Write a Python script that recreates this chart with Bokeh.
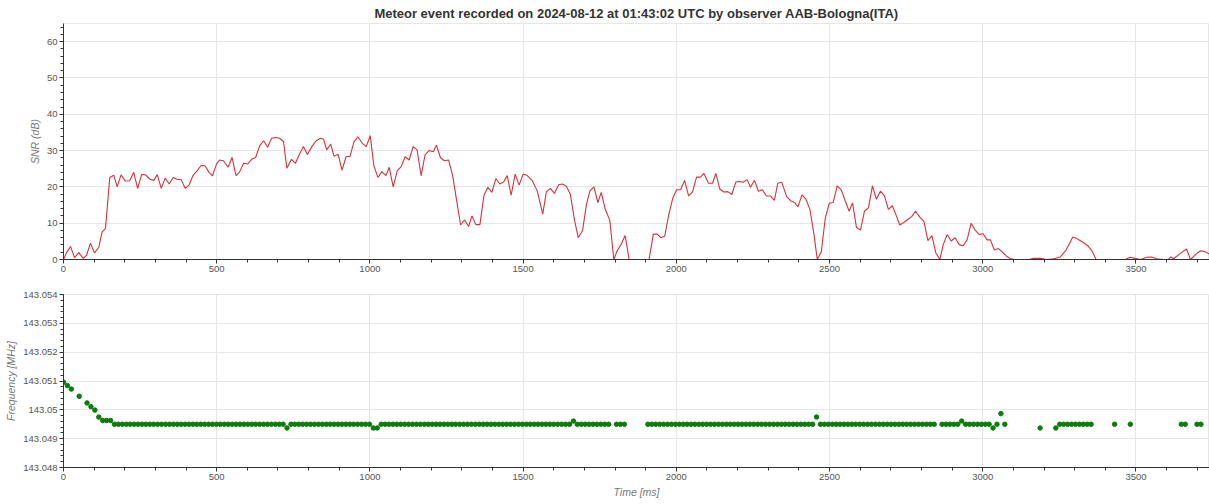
from bokeh.plotting import figure
from bokeh.layouts import column
from bokeh.models import ColumnDataSource, Range1d, SingleIntervalTicker, CustomJSTickFormatter
from bokeh.embed import file_html
from bokeh.resources import INLINE

TITLE = "Meteor event recorded on 2024-08-12 at 01:43:02 UTC by observer AAB-Bologna(ITA)"
X_LABEL = "Time [ms]"
SNR_LABEL = "SNR (dB)"
FREQ_LABEL = "Frequency [MHz]"

# ---- SNR trace ----
snr_time_ms = [
    0, 10, 23, 36, 50, 64, 75, 88, 101, 115, 126, 137, 151, 164, 175, 188, 202, 216, 229, 242,
    255, 268, 282, 295, 306, 319, 332, 345, 358, 371, 384, 397, 410, 423, 436, 449, 462, 475, 486, 499,
    509, 522, 537, 550, 563, 574, 588, 601, 614, 627, 640, 653, 666, 679, 692, 705, 718, 729, 744, 757,
    770, 783, 796, 812, 825, 838, 849, 859, 872, 883, 896, 909, 922, 935, 948, 961, 975, 988, 1001, 1013,
    1026, 1039, 1052, 1063, 1076, 1089, 1102, 1115, 1128, 1141, 1154, 1167, 1180, 1193, 1207, 1217, 1230, 1243, 1257, 1270,
    1283, 1296, 1309, 1322, 1333, 1346, 1359, 1372, 1385, 1398, 1411, 1424, 1437, 1448, 1461, 1474, 1487, 1500, 1513, 1529,
    1546, 1564, 1576, 1589, 1602, 1616, 1628, 1641, 1654, 1668, 1680, 1694, 1707, 1718, 1731, 1744, 1755, 1768, 1783, 1796,
    1807, 1820, 1833, 1846, 1860, 1873, 1886, 1898, 1911, 1925, 1938, 1949, 1962, 1975, 1988, 2001, 2014, 2027, 2040, 2053,
    2066, 2079, 2090, 2105, 2118, 2129, 2142, 2155, 2168, 2181, 2194, 2207, 2218, 2231, 2242, 2255, 2268, 2281, 2294, 2307,
    2320, 2331, 2344, 2360, 2373, 2386, 2397, 2410, 2423, 2436, 2449, 2460, 2473, 2486, 2499, 2512, 2525, 2538, 2551, 2564,
    2575, 2588, 2601, 2614, 2627, 2640, 2653, 2666, 2679, 2692, 2705, 2719, 2729, 2742, 2755, 2768, 2781, 2795, 2808, 2821,
    2834, 2847, 2860, 2871, 2884, 2897, 2910, 2923, 2936, 2949, 2962, 2975, 2988, 3001, 3014, 3025, 3038, 3051, 3064, 3077,
    3090, 3103, 3130, 3150, 3166, 3188, 3209, 3231, 3253, 3272, 3294, 3307, 3320, 3333, 3346, 3357, 3370, 3400, 3440, 3465,
    3481, 3497, 3515, 3535, 3551, 3568, 3590, 3606, 3614, 3623, 3645, 3665, 3678, 3699, 3712, 3726, 3739,
]
snr_db = [
    0, 1.9, 3.6, 0.5, 1.9, 0.3, 1.1, 4.5, 1.8, 3.3, 7.6, 8.5, 22.6, 23.2, 20.0, 23.3, 21.6, 21.7, 24.0, 19.6,
    23.4, 23.3, 22.1, 21.8, 23.4, 19.6, 22.4, 20.8, 22.6, 22.1, 22.0, 19.6, 20.5, 23.2, 24.4, 25.9, 25.8, 24.0, 23.0, 26.2,
    27.4, 27.2, 25.4, 28.1, 23.1, 24.0, 26.5, 26.3, 27.6, 28.1, 31.3, 32.7, 30.9, 33.4, 33.6, 33.4, 32.5, 25.1, 27.6, 26.5,
    29.0, 31.1, 28.9, 31.3, 32.7, 33.4, 33.1, 30.2, 31.8, 28.4, 29.0, 24.6, 28.3, 28.4, 32.4, 33.8, 32.0, 31.1, 34.1, 25.8,
    22.6, 24.2, 23.1, 25.4, 20.0, 24.4, 25.6, 28.3, 27.4, 31.1, 30.2, 23.1, 28.8, 30.0, 29.7, 31.5, 28.1, 27.2, 27.4, 23.1,
    16.2, 9.5, 10.9, 9.1, 12.0, 9.6, 9.6, 17.6, 19.9, 18.5, 22.3, 20.8, 21.4, 23.1, 17.7, 23.5, 20.5, 23.5, 23.2, 21.8,
    18.9, 12.5, 18.7, 19.6, 18.2, 20.6, 20.8, 20.2, 18.0, 10.7, 6.0, 8.0, 15.3, 18.9, 20.0, 15.7, 18.5, 13.9, 10.7, 0,
    2.4, 4.2, 6.6, 0, 0, 0, 0, 0, 0, 7.0, 7.0, 6.0, 6.4, 12.2, 16.8, 19.2, 19.2, 21.8, 17.5, 18.6,
    22.7, 22.7, 23.7, 21.0, 21.0, 23.7, 19.4, 18.6, 18.7, 17.9, 21.3, 21.5, 21.3, 22.0, 19.9, 21.8, 18.8, 19.2, 17.5, 17.5,
    16.3, 21.0, 21.3, 17.3, 16.2, 15.7, 14.5, 17.8, 16.6, 13.8, 7.0, 0, 2.1, 11.3, 15.5, 15.7, 20.3, 19.2, 16.2, 13.3,
    15.6, 8.8, 8.1, 13.3, 14.2, 20.3, 16.6, 18.8, 17.6, 13.8, 14.8, 11.8, 9.5, 10.2, 11.0, 11.8, 13.3, 11.6, 10.5, 5.2,
    6.6, 1.8, 0, 4.1, 6.9, 5.1, 6.0, 4.1, 3.8, 5.4, 10.0, 8.1, 6.9, 7.1, 5.4, 5.4, 2.6, 3.0, 2.1, 0.9,
    0.3, 0, 0, 0, 0.3, 0.3, 0, 0.2, 0.7, 2.6, 6.2, 5.8, 5.1, 4.4, 3.5, 2.3, 0, 0, 0, 0,
    0.6, 0.3, 0, 0.6, 0.7, 0.2, 0, 0, 0.7, 0.2, 1.7, 2.9, 0, 1.7, 2.4, 2.1, 1.5,
]

# ---- Frequency of the echo peak ----
freq_time_ms = [
    0.0, 12.8, 25.6, 51.2, 76.8, 89.6, 102.4, 115.2, 128.0, 140.8,
    153.6, 166.4, 179.2, 192.0, 204.8, 217.6, 230.4, 243.2, 256.0, 268.8,
    281.6, 294.4, 307.2, 320.0, 332.8, 345.6, 358.4, 371.2, 384.0, 396.8,
    409.6, 422.4, 435.2, 448.0, 460.8, 473.6, 486.4, 499.2, 512.0, 524.8,
    537.6, 550.4, 563.2, 576.0, 588.8, 601.6, 614.4, 627.2, 640.0, 652.8,
    665.6, 678.4, 691.2, 704.0, 716.8, 729.6, 742.4, 755.2, 768.0, 780.8,
    793.6, 806.4, 819.2, 832.0, 844.8, 857.6, 870.4, 883.2, 896.0, 908.8,
    921.6, 934.4, 947.2, 960.0, 972.8, 985.6, 998.4, 1011.2, 1024.0, 1036.8,
    1049.6, 1062.4, 1075.2, 1088.0, 1100.8, 1113.6, 1126.4, 1139.2, 1152.0, 1164.8,
    1177.6, 1190.4, 1203.2, 1216.0, 1228.8, 1241.6, 1254.4, 1267.2, 1280.0, 1292.8,
    1305.6, 1318.4, 1331.2, 1344.0, 1356.8, 1369.6, 1382.4, 1395.2, 1408.0, 1420.8,
    1433.6, 1446.4, 1459.2, 1472.0, 1484.8, 1497.6, 1510.4, 1523.2, 1536.0, 1548.8,
    1561.6, 1574.4, 1587.2, 1600.0, 1612.8, 1625.6, 1638.4, 1651.2, 1664.0, 1676.8,
    1689.6, 1702.4, 1715.2, 1728.0, 1740.8, 1753.6, 1766.4, 1779.2, 1804.8, 1817.6,
    1830.4, 1907.2, 1920.0, 1932.8, 1945.6, 1958.4, 1971.2, 1984.0, 1996.8, 2009.6,
    2022.4, 2035.2, 2048.0, 2060.8, 2073.6, 2086.4, 2099.2, 2112.0, 2124.8, 2137.6,
    2150.4, 2163.2, 2176.0, 2188.8, 2201.6, 2214.4, 2227.2, 2240.0, 2252.8, 2265.6,
    2278.4, 2291.2, 2304.0, 2316.8, 2329.6, 2342.4, 2355.2, 2368.0, 2380.8, 2393.6,
    2406.4, 2419.2, 2432.0, 2444.8, 2457.6, 2470.4, 2483.2, 2496.0, 2508.8, 2521.6,
    2534.4, 2547.2, 2560.0, 2572.8, 2585.6, 2598.4, 2611.2, 2624.0, 2636.8, 2649.6,
    2662.4, 2675.2, 2688.0, 2700.8, 2713.6, 2726.4, 2739.2, 2752.0, 2764.8, 2777.6,
    2790.4, 2803.2, 2816.0, 2828.8, 2841.6, 2867.2, 2880.0, 2892.8, 2905.6, 2918.4,
    2931.2, 2944.0, 2956.8, 2969.6, 2982.4, 2995.2, 3008.0, 3020.8, 3033.6, 3046.4,
    3059.2, 3072.0, 3187.2, 3238.4, 3251.2, 3264.0, 3276.8, 3289.6, 3302.4, 3315.2,
    3328.0, 3340.8, 3353.6, 3430.4, 3481.6, 3648.0, 3660.8, 3699.2, 3712.0,
]
freq_mhz = [
    143.05096, 143.05084, 143.05072, 143.05047, 143.05024, 143.05011, 143.04999, 143.04975, 143.04963, 143.04963,
    143.04963, 143.0495, 143.0495, 143.0495, 143.0495, 143.0495, 143.0495, 143.0495, 143.0495, 143.0495,
    143.0495, 143.0495, 143.0495, 143.0495, 143.0495, 143.0495, 143.0495, 143.0495, 143.0495, 143.0495,
    143.0495, 143.0495, 143.0495, 143.0495, 143.0495, 143.0495, 143.0495, 143.0495, 143.0495, 143.0495,
    143.0495, 143.0495, 143.0495, 143.0495, 143.0495, 143.0495, 143.0495, 143.0495, 143.0495, 143.0495,
    143.0495, 143.0495, 143.0495, 143.0495, 143.0495, 143.04937, 143.0495, 143.0495, 143.0495, 143.0495,
    143.0495, 143.0495, 143.0495, 143.0495, 143.0495, 143.0495, 143.0495, 143.0495, 143.0495, 143.0495,
    143.0495, 143.0495, 143.0495, 143.0495, 143.0495, 143.0495, 143.0495, 143.04937, 143.04937, 143.0495,
    143.0495, 143.0495, 143.0495, 143.0495, 143.0495, 143.0495, 143.0495, 143.0495, 143.0495, 143.0495,
    143.0495, 143.0495, 143.0495, 143.0495, 143.0495, 143.0495, 143.0495, 143.0495, 143.0495, 143.0495,
    143.0495, 143.0495, 143.0495, 143.0495, 143.0495, 143.0495, 143.0495, 143.0495, 143.0495, 143.0495,
    143.0495, 143.0495, 143.0495, 143.0495, 143.0495, 143.0495, 143.0495, 143.0495, 143.0495, 143.0495,
    143.0495, 143.0495, 143.0495, 143.0495, 143.0495, 143.0495, 143.0495, 143.0495, 143.04961, 143.0495,
    143.0495, 143.0495, 143.0495, 143.0495, 143.0495, 143.0495, 143.0495, 143.0495, 143.0495, 143.0495,
    143.0495, 143.0495, 143.0495, 143.0495, 143.0495, 143.0495, 143.0495, 143.0495, 143.0495, 143.0495,
    143.0495, 143.0495, 143.0495, 143.0495, 143.0495, 143.0495, 143.0495, 143.0495, 143.0495, 143.0495,
    143.0495, 143.0495, 143.0495, 143.0495, 143.0495, 143.0495, 143.0495, 143.0495, 143.0495, 143.0495,
    143.0495, 143.0495, 143.0495, 143.0495, 143.0495, 143.0495, 143.0495, 143.0495, 143.0495, 143.0495,
    143.0495, 143.0495, 143.0495, 143.0495, 143.04975, 143.0495, 143.0495, 143.0495, 143.0495, 143.0495,
    143.0495, 143.0495, 143.0495, 143.0495, 143.0495, 143.0495, 143.0495, 143.0495, 143.0495, 143.0495,
    143.0495, 143.0495, 143.0495, 143.0495, 143.0495, 143.0495, 143.0495, 143.0495, 143.0495, 143.0495,
    143.0495, 143.0495, 143.0495, 143.0495, 143.0495, 143.0495, 143.0495, 143.0495, 143.0495, 143.0495,
    143.04961, 143.0495, 143.0495, 143.0495, 143.0495, 143.0495, 143.0495, 143.0495, 143.04937, 143.0495,
    143.04987, 143.0495, 143.04937, 143.04937, 143.0495, 143.0495, 143.0495, 143.0495, 143.0495, 143.0495,
    143.0495, 143.0495, 143.0495, 143.0495, 143.0495, 143.0495, 143.0495, 143.0495, 143.0495,
]

# axis extents
time_range_ms = [0, 3740]
snr_range_db = [0, 65]
freq_range_mhz = [143.048, 143.054]

FONT = "Liberation Sans"
LINE_RED = "#d6323c"
DOT_GREEN = "#0a7d0a"


def style_axes(p):
    for ax in (p.xaxis[0], p.yaxis[0]):
        ax.major_label_text_font = FONT
        ax.major_label_text_font_size = "9.5px"
        ax.major_label_text_color = "#555555"
        ax.axis_label_text_font = FONT
        ax.axis_label_text_font_size = "10.5px"
        ax.axis_label_text_font_style = "italic"
        ax.axis_label_text_color = "#777777"
        ax.axis_line_color = "#333333"
        ax.major_tick_line_color = "#333333"
        ax.minor_tick_line_color = "#333333"
        ax.major_tick_in = 0
        ax.major_tick_out = 4
        ax.minor_tick_in = 0
        ax.minor_tick_out = 3
        ax.major_label_standoff = 2
        ax.axis_label_standoff = 3
    p.grid.grid_line_color = "#e6e6e6"
    p.outline_line_color = "#e6e6e6"


src_snr = ColumnDataSource(dict(t=snr_time_ms, snr=snr_db))
src_freq = ColumnDataSource(dict(t=freq_time_ms, f=freq_mhz))

x_range = Range1d(time_range_ms[0], time_range_ms[1])

p1 = figure(
    width=1209, height=280, title=TITLE,
    x_range=x_range, y_range=Range1d(snr_range_db[0], snr_range_db[1]),
    output_backend="svg", toolbar_location=None,
    min_border_left=63, min_border_right=0, min_border_top=0, min_border_bottom=21,
)
p1.title.align = "center"
p1.title.text_font = FONT
p1.title.text_font_size = "13px"
p1.title.text_font_style = "bold"
p1.title.text_color = "#333333"
p1.title.standoff = 6
p1.title.offset = 4
p1.line(x="t", y="snr", source=src_snr, line_color=LINE_RED, line_width=1.1)
p1.xaxis.ticker = SingleIntervalTicker(interval=500, num_minor_ticks=5)
p1.yaxis.ticker = SingleIntervalTicker(interval=10, num_minor_ticks=5)
p1.yaxis.axis_label = SNR_LABEL
style_axes(p1)

p2 = figure(
    width=1209, height=224,
    x_range=x_range, y_range=Range1d(freq_range_mhz[0], freq_range_mhz[1]),
    output_backend="svg", toolbar_location=None,
    min_border_left=63, min_border_right=0, min_border_top=14, min_border_bottom=37,
)
p2.scatter(x="t", y="f", source=src_freq, size=4.5, marker="circle",
           fill_color=DOT_GREEN, line_color=DOT_GREEN)
p2.xaxis.ticker = SingleIntervalTicker(interval=500, num_minor_ticks=5)
p2.yaxis.ticker = SingleIntervalTicker(interval=0.001, num_minor_ticks=5)
p2.yaxis.formatter = CustomJSTickFormatter(code="return String(parseFloat(tick.toFixed(6)));")
p2.xaxis.axis_label = X_LABEL
p2.yaxis.axis_label = FREQ_LABEL
style_axes(p2)

layout = column(p1, p2, spacing=0)

open("out.html", "w").write(file_html(layout, INLINE))
